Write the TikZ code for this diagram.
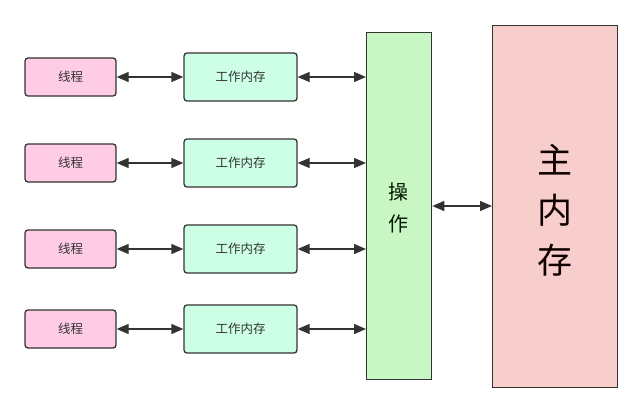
\documentclass[tikz,border=0pt]{standalone}
\usepackage{fontspec}
\newfontfamily\cjk{Noto Sans CJK SC}
\usetikzlibrary{arrows.meta}
\definecolor{thfill}{HTML}{FFCCE6}
\definecolor{wmfill}{HTML}{CCFFE6}
\definecolor{opfill}{HTML}{C9F7C4}
\definecolor{mmfill}{HTML}{F8CECC}
\definecolor{edge}{HTML}{333333}
\begin{document}
\begin{tikzpicture}[x=1pt,y=-1pt,
  thbox/.style={draw=edge,line width=1.3pt,fill=thfill,rounded corners=3pt,minimum width=91pt,minimum height=38pt,inner sep=0pt,font=\cjk\fontsize{12.5}{14}\selectfont,text=black!80},
  wmbox/.style={draw=edge,line width=1.3pt,fill=wmfill,rounded corners=3pt,minimum width=113pt,minimum height=48pt,inner sep=0pt,font=\cjk\fontsize{12.5}{14}\selectfont,text=black!80},
  biarrow/.style={{Triangle[length=12pt,width=10pt]}-{Triangle[length=12pt,width=10pt]},line width=1.3pt,draw=edge}]
\useasboundingbox (0,0) rectangle (642,412);
\fill[white] (0,0) rectangle (642,412);
\node[draw=edge,line width=1.3pt,fill=opfill,minimum width=65pt,minimum height=347pt,inner sep=0pt,anchor=north west] (op) at (366,32) {};
\node[font=\cjk\fontsize{20}{32}\selectfont,text=black!75!green!40!black,align=center] (optext) at (398.5,208) {操\\作};
\node[draw=edge,line width=1.3pt,fill=mmfill,minimum width=125pt,minimum height=362pt,inner sep=0pt,anchor=north west] (mm) at (492,25) {};
\node[font=\cjk\fontsize{35}{50}\selectfont,text=black!80!red!30!black,align=center] (mmtext) at (554.5,210) {主\\内\\存};
\foreach \i/\y in {1/77,2/163,3/249,4/329}{
  \node[thbox] (t\i) at (70.5,\y) {线程};
  \node[wmbox] (w\i) at (240.5,\y) {工作内存};
  \draw[biarrow] (t\i.east) -- (w\i.west);
  \draw[biarrow] (w\i.east) -- (w\i.east -| op.west);
}
\coordinate (mid) at (0,206);
\draw[biarrow] (mid -| op.east) -- (mid -| mm.west);
\end{tikzpicture}
\end{document}
